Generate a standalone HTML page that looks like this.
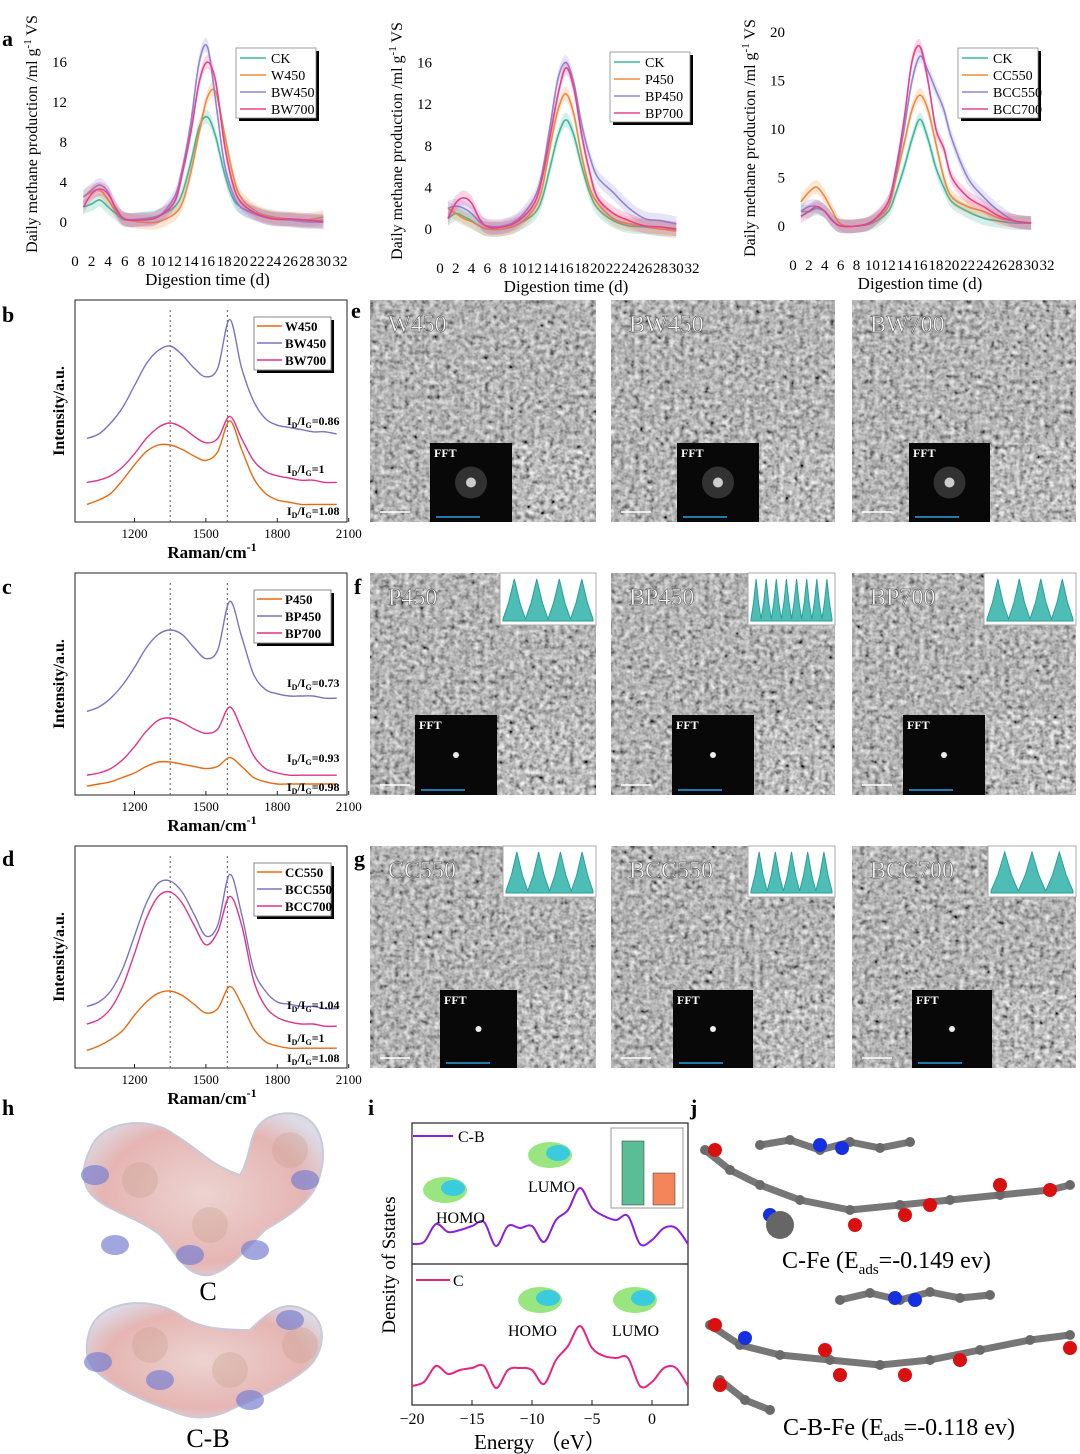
<!DOCTYPE html>
<html><head><meta charset="utf-8">
<style>
html,body{margin:0;padding:0;background:#fff;}
svg{display:block;font-family:"Liberation Serif",serif;}
</style></head>
<body>
<svg id="fig" width="1080" height="1454" viewBox="0 0 1080 1454" xmlns="http://www.w3.org/2000/svg">
<defs>
<filter id="tem" x="0" y="0" width="100%" height="100%">
<feTurbulence type="fractalNoise" baseFrequency="0.2" numOctaves="2" seed="3"/>
<feColorMatrix type="matrix" values="0.33 0.33 0.33 0 0  0.33 0.33 0.33 0 0  0.33 0.33 0.33 0 0  0 0 0 0 1"/>
<feComponentTransfer><feFuncR type="linear" slope="2.0" intercept="-0.5"/><feFuncG type="linear" slope="2.0" intercept="-0.5"/><feFuncB type="linear" slope="2.0" intercept="-0.5"/></feComponentTransfer>
</filter>
<radialGradient id="mol" cx="50%" cy="50%" r="60%"><stop offset="0" stop-color="#ecd3d0"/><stop offset="0.7" stop-color="#e5b5b3"/><stop offset="1" stop-color="#dcdce8"/></radialGradient>
</defs>
<g id="root"></g>
</svg>
<script>
// ---------- Panel a data ----------
const days = [1,2,3,4,5,6,8,10,12,13,14,15,16,17,18,19,20,22,24,26,28,30];
const a1Names = ["CK","W450","BW450","BW700"];
const a1CK = [1.5,1.8,2.2,1.5,0.8,0.2,0.3,0.6,1.5,3,6,9.5,10.5,8.5,5,2.5,1.5,0.8,0.4,0.2,0.1,0.2];
const a1W450 = [2.5,3,3.2,2.2,1,0.3,0,0,0.8,2,5,9,12.5,13,9,5,2.5,1,0.5,0.3,0.2,0.5];
const a1BW450 = [2.5,3.2,3.7,3,1.2,0.3,0.3,0.5,2.5,5.5,10,16,17.5,12,6,3,1.5,0.7,0.3,0.2,0,0];
const a1BW700 = [1.5,2.8,3.3,2.8,1.3,0.3,0.2,0.5,2,5,9,14,16,14,8,4,2,0.8,0.3,0.3,0.2,0];
const a2Names = ["CK","P450","BP450","BP700"];
const a2CK = [1,1.5,1.2,0.8,0.3,0,0,0.5,1.5,3,6,9,10.5,9,6,3.5,2,0.8,0.3,0.2,0,0];
const a2P450 = [2,1.5,1,0.7,0.3,0,0,0.5,2,4,8,11.5,13,11,7,4,2.5,1,0.5,0.3,0,-0.2];
const a2BP450 = [2,2.2,2,1.5,0.7,0.3,0.3,1,3,5.5,10,14.5,16,14,10,7,5,3.5,2,1,0.8,0.5];
const a2BP700 = [1,2.5,3,2.5,1,0.2,0.2,0.8,2.5,5,9,13,15.5,13.5,9,5.5,3,1.5,0.8,0.3,0.2,0];
const a3Names = ["CK","CC550","BCC550","BCC700"];
const a3CK = [1.5,1.5,1.8,1.5,0.6,0,0,0.3,1.5,3.5,6,9,11,9,6,4,2.5,1.5,0.8,0.5,0.3,0.3];
const a3CC550 = [2.5,3.5,4,3,1.5,0.2,0,0.5,2,5,8.5,12,13.5,12,8.5,5,3,2,1.5,0.8,0.5,0.3];
const a3BCC550 = [1.5,2,2,1.5,0.5,0,0,0.5,2.5,5.5,10,15,17.5,16,14,12,9,5,3,1.5,0.5,0.3];
const a3BCC700 = [1,1.5,2,1.5,0.5,0,0,0.5,2.5,6,11,17,18.5,15,10,8,5,3,2,1,0.5,0.3];
const xTicksA = [0,2,4,6,8,10,12,14,16,18,20,22,24,26,28,30,32];
const yTicksA12 = [0,4,8,12,16];
const yTicksA3 = [0,5,10,15,20];
// ---------- Raman data ----------
const wn = [1000,1050,1100,1150,1200,1250,1300,1350,1400,1450,1500,1550,1600,1650,1700,1750,1800,1850,1900,1950,2000,2050];
const ramanTicks = [1200,1500,1800,2100];
const bNames = ["W450","BW450","BW700"];
const bW450 = [8,10,13,19,26,32,35,35,33,30,28,32,46,33,20,13,10,9,8,8,8,8];
const bBW450 = [38,40,45,52,62,72,78,80,76,70,66,70,92,70,55,47,44,43,42,41,41,40];
const bBW700 = [18,19,21,25,31,38,43,45,43,39,36,38,48,38,28,23,21,20,19,19,18,18];
const bRatios = ["0.86","1","1.08"];
const cNames = ["P450","BP450","BP700"];
const cP450 = [4,5,6,8,10,13,15,15,14,13,12,13,17,13,8,6,5,5,5,5,5,5];
const cBP450 = [38,40,44,50,58,67,73,75,73,67,62,66,88,72,55,48,46,45,45,45,44,44];
const cBP700 = [9,10,12,16,22,29,34,35,33,30,28,30,40,30,18,12,10,9,9,9,9,9];
const cRatios = ["0.73","0.93","0.98"];
const dNames = ["CC550","BCC550","BCC700"];
const dCC550 = [8,10,13,17,24,30,34,35,33,29,25,27,37,29,18,12,10,9,9,9,9,9];
const dBCC550 = [28,30,35,45,60,75,84,85,80,70,60,65,88,70,45,35,30,29,28,28,27,27];
const dBCC700 = [20,22,27,37,52,68,78,80,75,65,56,62,78,65,40,28,23,21,20,20,19,19];
const dRatios = ["1.04","1","1.08"];
// ---------- DOS data ----------
const energy = [-20,-19,-18,-17,-16,-15,-14,-13,-12,-11,-10,-9,-8,-7,-6,-5,-4,-3,-2,-1,0,1,2,3];
const dosCB = [6,8,26,18,20,24,28,4,24,22,24,8,30,40,62,42,34,30,34,6,10,22,22,6];
const dosC = [6,10,26,18,22,24,26,4,22,24,22,8,32,46,66,44,36,34,34,6,10,24,24,6];
const energyTicks = [-20,-15,-10,-5,0];
const gapLabels = ["C","C-B"];
const gapValues = [0.64,0.32];

const NS="http://www.w3.org/2000/svg";
const root=document.getElementById('root');
function mk(tag,attrs,parent,txt){const e=document.createElementNS(NS,tag);for(const k in attrs)e.setAttribute(k,attrs[k]);if(txt!==undefined)e.textContent=txt;(parent||root).appendChild(e);return e;}
function smooth(pts){let d="M"+pts[0][0].toFixed(1)+","+pts[0][1].toFixed(1);for(let i=0;i<pts.length-1;i++){const p0=pts[i-1]||pts[i],p1=pts[i],p2=pts[i+1],p3=pts[i+2]||p2;const c1=[p1[0]+(p2[0]-p0[0])/6,p1[1]+(p2[1]-p0[1])/6],c2=[p2[0]-(p3[0]-p1[0])/6,p2[1]-(p3[1]-p1[1])/6];d+="C"+c1[0].toFixed(1)+","+c1[1].toFixed(1)+" "+c2[0].toFixed(1)+","+c2[1].toFixed(1)+" "+p2[0].toFixed(1)+","+p2[1].toFixed(1);}return d;}
function letter(ch,x,y){const t=mk('text',{x:x,y:y,'font-size':22,'font-weight':'bold'},root,ch);

}

// ---------- Panel a ----------
const colA=["#3db89a","#ef8a3a","#8f86d4","#e8418c"];
function chartA(id,x0,x1,y0,yPerUnit,yTicks,names,series,lx,ly){
 const g=mk('g',{});
 
 
 const sx=d=>x0+(x1-x0)*d/32, sy=v=>y0-v*yPerUnit;
 series.forEach((s,k)=>{
  const up=days.map((d,i)=>[sx(d),sy(s[i]+0.7)]), dn=days.map((d,i)=>[sx(d),sy(s[i]-0.7)]).reverse();
  const band=mk('path',{d:smooth(up)+"L"+smooth(dn).slice(1)+"Z",fill:colA[k],'fill-opacity':0.22,stroke:'none'},g);
  
  
  const ln=mk('path',{d:smooth(days.map((d,i)=>[sx(d),sy(s[i])])),fill:'none',stroke:colA[k],'stroke-width':1.6},g);
  
  
 });
 xTicksA.forEach(t=>{const tx=mk('text',{x:sx(t),y:y0+44,'font-size':15,'text-anchor':'middle'},g,String(t));
  
  });
 yTicks.forEach(t=>{const tx=mk('text',{x:x0-8,y:sy(t)+5,'font-size':15,'text-anchor':'end'},g,String(t));
  
  });
 const xt=mk('text',{x:(x0+x1)/2,y:y0+63,'font-size':17,'text-anchor':'middle'},g,'Digestion time (d)');
 
 
 const yt=mk('text',{x:0,y:0,'font-size':16,'text-anchor':'middle',transform:`translate(${x0-38},${y0-88}) rotate(-90)`},g,'Daily methane production /ml g');
 
 
 mk('tspan',{'font-size':11,dy:-6},yt,'-1');
 mk('tspan',{dy:6},yt,' VS');
 const lg=mk('g',{},g);
 
 
 mk('rect',{x:lx+3,y:ly+3,width:80,height:70,fill:'#000'},lg);
 mk('rect',{x:lx,y:ly,width:80,height:70,fill:'#fff',stroke:'#888','stroke-width':0.8},lg);
 names.forEach((n,k)=>{mk('line',{x1:lx+4,y1:ly+10+k*17,x2:lx+30,y2:ly+10+k*17,stroke:colA[k],'stroke-width':1.6},lg);
  const t=mk('text',{x:lx+35,y:ly+15+k*17,'font-size':14},lg,n);
  
  });
}
letter('a',2,46);
chartA('a1',75,340,222,10,yTicksA12,a1Names,[a1CK,a1W450,a1BW450,a1BW700],236,48);
chartA('a2',440,692,229,10.4,yTicksA12,a2Names,[a2CK,a2P450,a2BP450,a2BP700],610,52);
chartA('a3',793,1047,226,9.7,yTicksA3,a3Names,[a3CK,a3CC550,a3BCC550,a3BCC700],958,48);

// ---------- Raman ----------
const colR=["#e66a10","#7c72c4","#e0338a"];
function raman(id,top,bottom,names,series,ratios,ratioY){
 const g=mk('g',{});
 
 
 const sx=w=>75+(w-950)*0.238, sy=v=>bottom-v*2.2;
 const fr=mk('rect',{x:75,y:top,width:272,height:bottom-top,fill:'none',stroke:'#222','stroke-width':1},g);
 
 
 [1350,1590].forEach(w=>mk('line',{x1:sx(w),y1:top+10,x2:sx(w),y2:bottom,stroke:'#555','stroke-dasharray':'2,3'},g));
 series.forEach((s,k)=>{const p=mk('path',{d:smooth(wn.map((w,i)=>[sx(w),sy(s[i])])),fill:'none',stroke:colR[k],'stroke-width':1.4},g);
  
  });
 ramanTicks.forEach(t=>{mk('line',{x1:sx(t),y1:bottom,x2:sx(t),y2:bottom-4,stroke:'#222'},g);
  const tx=mk('text',{x:sx(t),y:bottom+16,'font-size':13,'text-anchor':'middle'},g,String(t));
  
  });
 const xt=mk('text',{x:212,y:bottom+36,'font-size':17,'font-weight':'bold','text-anchor':'middle'},g,'Raman/cm');
 
 
 mk('tspan',{'font-size':12,dy:-7},xt,'-1');
 const yt=mk('text',{x:0,y:0,'font-size':16,'font-weight':'bold','text-anchor':'middle',transform:`translate(64,${(top+bottom)/2}) rotate(-90)`},g,'Intensity/a.u.');
 
 
 const lx=254,ly=top+17;
 mk('rect',{x:lx+3,y:ly+3,width:77,height:53,fill:'#000'},g);
 mk('rect',{x:lx,y:ly,width:77,height:53,fill:'#fff',stroke:'#888'},g);
 names.forEach((n,k)=>{mk('line',{x1:lx+3,y1:ly+9+k*17,x2:lx+28,y2:ly+9+k*17,stroke:colR[k],'stroke-width':1.6},g);
  const t=mk('text',{x:lx+31,y:ly+14+k*17,'font-size':13,'font-weight':'bold'},g,n);
  
  });
 ratios.forEach((r,k)=>{const t=mk('text',{x:287,y:ratioY[k],'font-size':12,'font-weight':'bold'},g,'I');
  
  
  mk('tspan',{'font-size':8,dy:3},t,'D');mk('tspan',{dy:-3},t,'/I');mk('tspan',{'font-size':8,dy:3},t,'G');mk('tspan',{dy:-3},t,'='+r);});
}
letter('b',2,322);
raman('b',300,522,bNames,[bW450,bBW450,bBW700],bRatios,[425,473,515]);
letter('c',2,594);
raman('c',573,795,cNames,[cP450,cBP450,cBP700],cRatios,[687,762,791]);
letter('d',2,866);
raman('d',846,1068,dNames,[dCC550,dBCC550,dBCC700],dRatios,[1009,1042,1062]);

// ---------- TEM images ----------
const cols=[[370,596],[611,835],[852,1076]];
function tem(label,cx,row,fft,mag,hist){
 const g=mk('g',{});
 
 
 const w=cx[1]-cx[0],h=row[1]-row[0];
 mk('rect',{x:cx[0],y:row[0],width:w,height:h,fill:'#777'},g);
 mk('rect',{x:cx[0],y:row[0],width:w,height:h,filter:'url(#tem)',opacity:0.9},g);
 const t=mk('text',{x:cx[0]+18,y:row[0]+32,'font-size':24,fill:'#f4f4f4',stroke:'#333','stroke-width':0.4},g,label);
 
 
 mk('line',{x1:cx[0]+10,y1:row[1]-10,x2:cx[0]+40,y2:row[1]-10,stroke:'#fff','stroke-width':1.5},g);
 const f=mk('g',{},g);
 
 
 mk('rect',{x:fft[0],y:fft[1],width:fft[2],height:row[1]-fft[1],fill:'#080808'},f);
 mk('circle',{cx:fft[0]+fft[2]/2,cy:(fft[1]+row[1])/2,r:hist?3:16,fill:hist?'#eee':'#444','fill-opacity':hist?1:0.7},f);
 if(!hist)mk('circle',{cx:fft[0]+fft[2]/2,cy:(fft[1]+row[1])/2,r:5,fill:'#ccc'},f);
 mk('text',{x:fft[0]+4,y:fft[1]+14,'font-size':12,'font-weight':'bold',fill:'#fff'},f,'FFT');
 mk('line',{x1:fft[0]+6,y1:row[1]-5,x2:fft[0]+50,y2:row[1]-5,stroke:'#2aa0e0','stroke-width':1.5},f);
 const m=mk('g',{},g);
 
 
 mk('rect',{x:mag[0],y:fft[1],width:mag[1]-mag[0],height:row[1]-fft[1],fill:'#6e6e6e'},m);
 mk('rect',{x:mag[0],y:fft[1],width:mag[1]-mag[0],height:row[1]-fft[1],filter:'url(#tem)'},m);
 if(hist){const hg=mk('g',{},g);
  
  
  mk('rect',{x:hist[0],y:row[0],width:cx[1]-hist[0],height:hist[1]-row[0],fill:'#fff',stroke:'#aaa'},hg);
  const ww=cx[1]-hist[0],hh=hist[1]-row[0];let d=`M${hist[0]+3},${hist[1]-4}`;
  const n=hist[2];for(let i=0;i<=n*4;i++){const xx=hist[0]+3+(ww-6)*i/(n*4);const yy=hist[1]-4-(i%4==2?hh-10:(i%4==0?2:hh*0.35));d+=`L${xx.toFixed(1)},${yy.toFixed(1)}`;}
  d+=`L${cx[1]-3},${hist[1]-4}Z`;mk('path',{d:d,fill:'#4dbdb5',stroke:'#2a9f98'},hg);}
}
letter('e',351,318);letter('f',354,594);letter('g',354,866);
const eL=["W450","BW450","BW700"],fL=["P450","BP450","BP700"],gL=["CC550","BCC550","BCC700"];
tem(eL[0],cols[0],[300,522],[430,443,82],[514,594]);
tem(eL[1],cols[1],[300,522],[677,443,82],[761,834]);
tem(eL[2],cols[2],[300,522],[909,443,81],[992,1075]);
tem(fL[0],cols[0],[573,795],[415,715,82],[499,594],[500,625,4]);
tem(fL[1],cols[1],[573,795],[672,715,82],[756,834],[748,625,8]);
tem(fL[2],cols[2],[573,795],[903,715,82],[987,1076],[984,625,4]);
tem(gL[0],cols[0],[846,1068],[440,990,77],[519,594],[503,897,4]);
tem(gL[1],cols[1],[846,1068],[673,990,80],[755,834],[748,897,5]);
tem(gL[2],cols[2],[846,1068],[912,990,80],[994,1076],[988,897,3]);

// ---------- Panel h ----------
letter('h',2,1115);
function molSurf(name,d,lab,ly){const g=mk('g',{});
 
 
 mk('path',{d:d,fill:'url(#mol)',stroke:'#c9c9d8','stroke-width':2},g);
 const t=mk('text',{x:208,y:ly,'font-size':26,'text-anchor':'middle'},g,lab);
 
 
 return g;}
molSurf('esp-surface-c',"M90,1150 C100,1120 150,1115 175,1135 C200,1150 210,1165 240,1175 C255,1150 245,1125 275,1115 C315,1105 330,1140 320,1175 C315,1200 290,1215 265,1230 C245,1250 230,1270 210,1275 C185,1278 175,1250 160,1235 C135,1215 100,1210 88,1190 C80,1175 85,1160 90,1150Z",'C',1300);
molSurf('esp-surface-c-b',"M90,1330 C100,1300 150,1295 180,1315 C200,1330 230,1330 250,1330 C270,1310 285,1300 305,1310 C330,1320 325,1355 305,1370 C280,1390 250,1400 230,1410 C210,1420 190,1420 170,1410 C140,1400 110,1385 95,1370 C85,1360 85,1345 90,1330Z",'C-B',1447);
[[95,1175],[115,1245],[190,1255],[255,1250],[305,1180],[98,1362],[160,1380],[290,1320],[250,1400]].forEach(p=>mk('ellipse',{cx:p[0],cy:p[1],rx:14,ry:10,fill:'#7a80d0','fill-opacity':0.7},root));
[[140,1180],[210,1225],[290,1150],[150,1345],[230,1370],[300,1345]].forEach(p=>mk('circle',{cx:p[0],cy:p[1],r:18,fill:'#c9a090','fill-opacity':0.35},root));

// ---------- Panel i ----------
letter('i',368,1115);
(function(){const g=mk('g',{});
 
 
 const sx=e=>412+(e+20)*12;
 mk('rect',{x:412,y:1123,width:276,height:282,fill:'none',stroke:'#222','stroke-width':1.2},g);
 mk('line',{x1:412,y1:1264,x2:688,y2:1264,stroke:'#222','stroke-width':1.2},g);
 const p1=mk('path',{d:smooth(energy.map((e,i)=>[sx(e),1250-dosCB[i]])),fill:'none',stroke:'#8a1fe0','stroke-width':2},g);
 
 
 const p2=mk('path',{d:smooth(energy.map((e,i)=>[sx(e),1392-dosC[i]])),fill:'none',stroke:'#e8247f','stroke-width':2},g);
 
 
 energyTicks.forEach(t=>{mk('line',{x1:sx(t),y1:1405,x2:sx(t),y2:1400,stroke:'#222'},g);
  const tx=mk('text',{x:sx(t),y:1424,'font-size':16,'text-anchor':'middle'},g,t<0?'\u2212'+(-t):String(t));
  
  });
 const xt=mk('text',{x:540,y:1449,'font-size':21,'text-anchor':'middle'},g,'Energy （eV）');
 
 
 const yt=mk('text',{x:0,y:0,'font-size':19,'text-anchor':'middle',transform:'translate(395,1265) rotate(-90)'},g,'Density of Sstates');
 
 
 mk('line',{x1:413,y1:1136,x2:453,y2:1136,stroke:'#8a1fe0','stroke-width':2},g);
 const l1=mk('text',{x:458,y:1142,'font-size':16},g,'C-B');
 
 
 mk('line',{x1:416,y1:1280,x2:450,y2:1280,stroke:'#e8247f','stroke-width':2},g);
 const l2=mk('text',{x:453,y:1286,'font-size':16},g,'C');
 
 
 [['HOMO',436,1223],['LUMO',528,1192],['HOMO',508,1336],['LUMO',612,1336]].forEach(a=>{const t=mk('text',{x:a[1],y:a[2],'font-size':16},g,a[0]);
  
  });
 [[445,1190],[550,1155],[540,1300],[635,1300]].forEach(p=>{mk('ellipse',{cx:p[0],cy:p[1],rx:22,ry:13,fill:'#7fe060','fill-opacity':0.8},g);mk('ellipse',{cx:p[0]+8,cy:p[1]-2,rx:12,ry:8,fill:'#30c8e8','fill-opacity':0.9},g);});
 const ig=mk('g',{},g);
 
 
 mk('rect',{x:611,y:1128,width:72,height:80,fill:'#fff',stroke:'#999'},ig);
 const by=v=>1205-v*100, bc=['#5bbd95','#f4845a'];
 gapValues.forEach((v,k)=>{const r=mk('rect',{x:622+k*31,y:by(v),width:22,height:1205-by(v),fill:bc[k],stroke:'#333','stroke-width':0.5},ig);
  
  });
})();

// ---------- Panel j ----------
letter('j',690,1115);
function ballStick(name,pts,reds,blues){const g=mk('g',{});
 
 
 for(let i=0;i<pts.length-1;i++)mk('line',{x1:pts[i][0],y1:pts[i][1],x2:pts[i+1][0],y2:pts[i+1][1],stroke:'#777','stroke-width':7},g);
 pts.forEach(p=>mk('circle',{cx:p[0],cy:p[1],r:5,fill:'#6a6a6a'},g));
 reds.forEach(p=>mk('circle',{cx:p[0],cy:p[1],r:7,fill:'#d81010'},g));
 blues.forEach(p=>mk('circle',{cx:p[0],cy:p[1],r:7,fill:'#1530e0'},g));}
ballStick('adsorbate-c-fe-top',[[760,1145],[790,1140],[820,1150],[850,1142],[880,1148],[910,1142]],[],[[820,1145],[842,1148]]);
ballStick('substrate-c-fe',[[705,1150],[730,1170],[760,1185],[800,1200],[850,1210],[900,1205],[950,1200],[1000,1195],[1050,1190],[1070,1185]],[[715,1150],[855,1225],[905,1215],[930,1205],[1000,1185],[1050,1190]],[[770,1215]]);
mk('circle',{cx:780,cy:1225,r:14,fill:'#666'});
const j1=mk('text',{x:782,y:1268,'font-size':24},root,'C-Fe (E');


mk('tspan',{'font-size':15,dy:6},j1,'ads');mk('tspan',{dy:-6},j1,'=-0.149 ev)');
ballStick('adsorbate-c-b-fe-top',[[840,1300],[870,1293],[900,1300],[930,1292],[960,1298],[990,1295]],[],[[895,1298],[915,1300]]);
ballStick('substrate-c-b-fe',[[710,1325],[740,1345],[780,1355],[830,1360],[880,1365],[930,1360],[980,1350],[1030,1340],[1070,1335]],[[715,1325],[825,1350],[840,1375],[905,1375],[960,1360],[1070,1348]],[[745,1338]]);
ballStick('substrate-c-b-fe-lower',[[720,1380],[745,1400],[770,1410]],[[720,1385]],[]);
const j2=mk('text',{x:783,y:1435,'font-size':24},root,'C-B-Fe (E');


mk('tspan',{'font-size':15,dy:6},j2,'ads');mk('tspan',{dy:-6},j2,'=-0.118 ev)');
</script>
</body></html>
